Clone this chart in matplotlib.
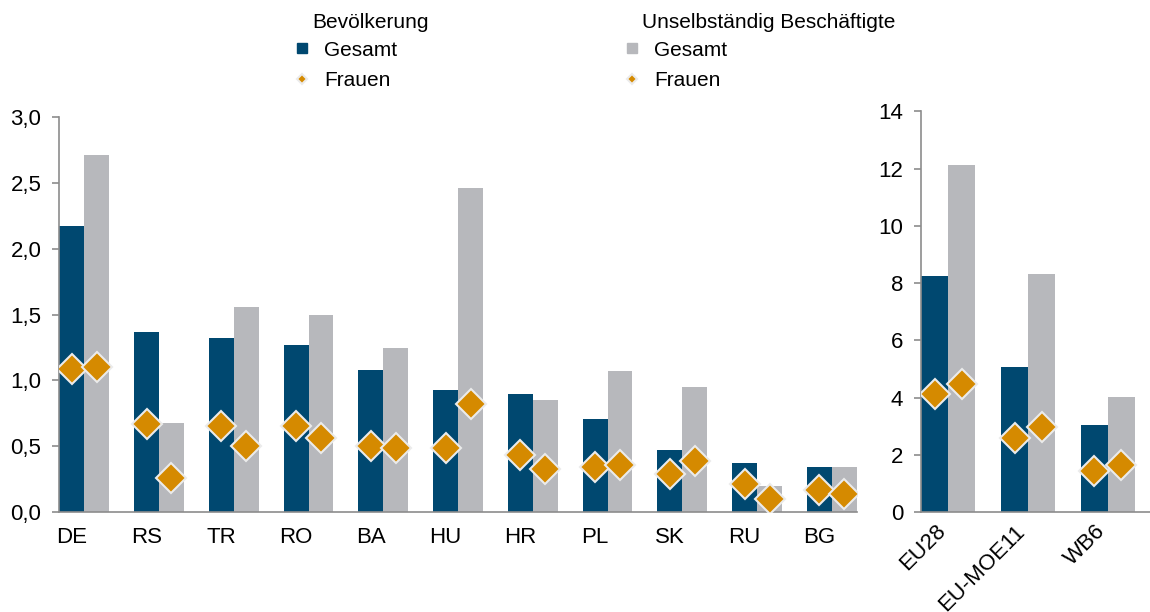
import matplotlib
matplotlib.use("Agg")
import matplotlib.pyplot as plt
from matplotlib.lines import Line2D
import numpy as np

# Daten (links: Laender, rechts: Aggregate)
laender = ["DE", "RS", "TR", "RO", "BA", "HU", "HR", "PL", "SK", "RU", "BG"]
bev_gesamt = [2.17, 1.37, 1.32, 1.27, 1.08, 0.93, 0.90, 0.71, 0.47, 0.37, 0.34]
bev_frauen = [1.09, 0.67, 0.65, 0.65, 0.50, 0.49, 0.43, 0.34, 0.29, 0.21, 0.17]
ub_gesamt = [2.71, 0.68, 1.56, 1.50, 1.25, 2.46, 0.85, 1.07, 0.95, 0.20, 0.34]
ub_frauen = [1.10, 0.26, 0.50, 0.56, 0.49, 0.82, 0.33, 0.36, 0.39, 0.10, 0.14]

regionen = ["EU28", "EU-MOE11", "WB6"]
reg_bev_gesamt = [8.25, 5.06, 3.05]
reg_bev_frauen = [4.13, 2.58, 1.45]
reg_ub_gesamt = [12.13, 8.32, 4.04]
reg_ub_frauen = [4.48, 2.99, 1.65]

NAVY = "#004870"
GRAU = "#B7B8BC"
ORANGE = "#D58A00"
RAND = "#EBEBEB"
ACHSE = "#8C8C8C"

plt.rcParams["font.family"] = ["Liberation Sans", "DejaVu Sans"]
plt.rcParams["font.size"] = 16


def balken(ax, kategorien, gesamt1, frauen1, gesamt2, frauen2, breite):
    x = np.arange(len(kategorien))
    x1 = x - breite / 2
    x2 = x + breite / 2
    ax.bar(x1, gesamt1, width=breite, color=NAVY, zorder=2)
    ax.bar(x2, gesamt2, width=breite, color=GRAU, zorder=2)
    ax.plot(x1, frauen1, linestyle="none", marker="D", markersize=15,
            markerfacecolor=ORANGE, markeredgecolor=RAND, markeredgewidth=1.5, zorder=3)
    ax.plot(x2, frauen2, linestyle="none", marker="D", markersize=15,
            markerfacecolor=ORANGE, markeredgecolor=RAND, markeredgewidth=1.5, zorder=3)
    for s in ["top", "right"]:
        ax.spines[s].set_visible(False)
    for s in ["left", "bottom"]:
        ax.spines[s].set_color(ACHSE)
        ax.spines[s].set_linewidth(1.2)
    ax.tick_params(axis="y", length=5, color=ACHSE, width=1.2, pad=8)
    ax.tick_params(axis="x", length=0)
    return x1


fig = plt.figure(figsize=(11.5, 6.12), dpi=100)

# linkes Diagramm
ax1 = fig.add_axes([0.0516, 0.1634, 0.6934, 0.645])
b = 1 / 3
x1 = balken(ax1, laender, bev_gesamt, bev_frauen, ub_gesamt, ub_frauen, b)
ax1.set_xlim(-b, len(laender) - 1 + b)
ax1.set_ylim(0, 3)
ax1.set_yticks(np.arange(0, 3.01, 0.5))
ax1.set_yticklabels([f"{v:.1f}".replace(".", ",") for v in np.arange(0, 3.01, 0.5)])
ax1.set_xticks(x1)
ax1.set_xticklabels(laender)
ax1.tick_params(axis="x", pad=11)

# rechtes Diagramm
ax2 = fig.add_axes([0.8011, 0.1629, 0.1989, 0.6552])
b2 = 0.3375
x2 = balken(ax2, regionen, reg_bev_gesamt, reg_bev_frauen, reg_ub_gesamt, reg_ub_frauen, b2)
ax2.set_xlim(-b2, len(regionen) - 1 + b2 + 0.19)
ax2.set_ylim(0, 14)
ax2.set_yticks(range(0, 15, 2))
ax2.set_xticks(x2)
ax2.set_xticklabels(regionen, rotation=45, ha="right", rotation_mode="anchor")
ax2.tick_params(axis="x", pad=6)

# Legende (zwei Spalten mit Ueberschrift)
def handles(farbe):
    return [Line2D([], [], linestyle="none", marker="s", markersize=7.5,
                   markerfacecolor=farbe, markeredgecolor=farbe),
            Line2D([], [], linestyle="none", marker="D", markersize=5,
                   markerfacecolor=ORANGE, markeredgecolor=RAND, markeredgewidth=1.5)]

W, H = 1150, 612
for farbe, titel, x_marker, x_titel in [(NAVY, "Bevölkerung", 302, 312),
                                         (GRAU, "Unselbständig Beschäftigte", 632, 642)]:
    fig.text(x_titel / W, 1 - 28 / H, titel, fontsize=15, va="baseline", ha="left")
    fig.legend(handles(farbe), ["Gesamt", "Frauen"], loc="upper left",
               bbox_to_anchor=((x_marker - 10.4) / W, 1 - 40.5 / H), frameon=False,
               fontsize=15, borderpad=0, borderaxespad=0, handlelength=1.0,
               handletextpad=0.56, labelspacing=0.55)

fig.savefig("out.png", dpi=100)
